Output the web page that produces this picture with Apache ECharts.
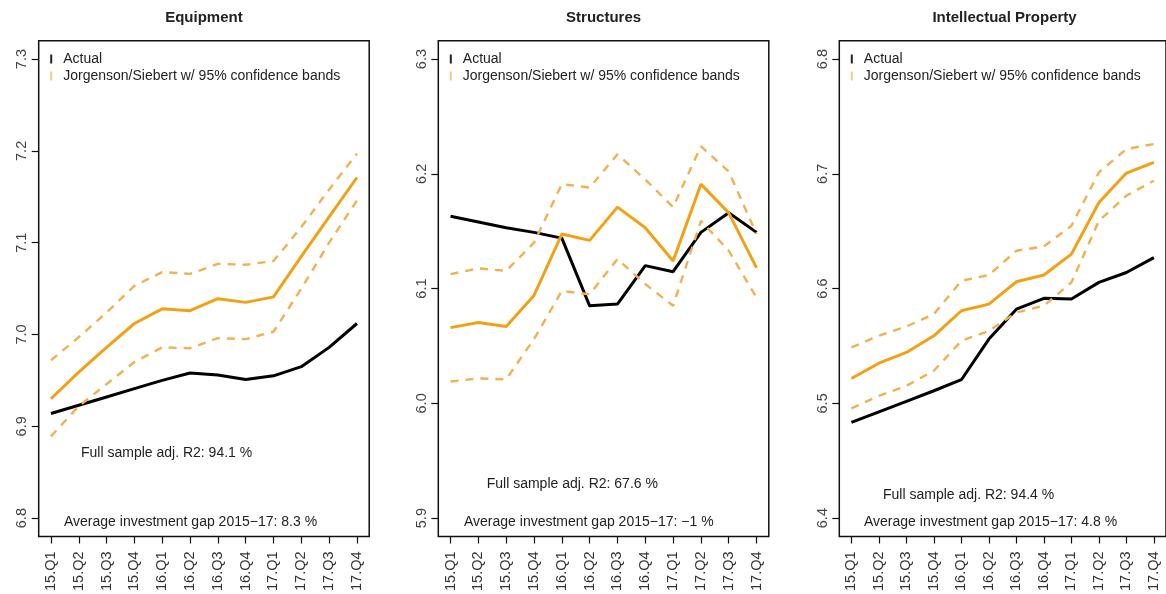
<!DOCTYPE html>
<html>
<head>
<meta charset="utf-8">
<script src="https://cdn.jsdelivr.net/npm/echarts@6/dist/echarts.min.js"></script>
<style>
html,body{margin:0;padding:0;background:#fff;}
#c{width:1166px;height:594px;}
</style>
</head>
<body>
<div id="c"></div>
<script>
// ---- data ----
const categories = ['15.Q1','15.Q2','15.Q3','15.Q4','16.Q1','16.Q2','16.Q3','16.Q4','17.Q1','17.Q2','17.Q3','17.Q4'];
const panelTitles = ['Equipment','Structures','Intellectual Property'];

const equipActual = [6.914, 6.923, 6.932, 6.941, 6.950, 6.958, 6.956, 6.951, 6.955, 6.965, 6.986, 7.012];
const equipFit    = [6.930, 6.959, 6.986, 7.012, 7.028, 7.026, 7.039, 7.035, 7.041, 7.085, 7.128, 7.171];
const equipUpper  = [6.972, 6.997, 7.024, 7.053, 7.068, 7.066, 7.077, 7.076, 7.080, 7.117, 7.158, 7.197];
const equipLower  = [6.889, 6.922, 6.946, 6.970, 6.986, 6.985, 6.996, 6.995, 7.003, 7.050, 7.100, 7.146];

const structActual = [6.163, 6.158, 6.153, 6.149, 6.144, 6.085, 6.0865, 6.120, 6.1147, 6.149, 6.166, 6.149];
const structFit    = [6.066, 6.0705, 6.067, 6.094, 6.1475, 6.142, 6.171, 6.153, 6.124, 6.191, 6.166, 6.118];
const structUpper  = [6.1126, 6.1176, 6.1155, 6.140, 6.191, 6.188, 6.217, 6.195, 6.171, 6.224, 6.202, 6.1475];
const structLower  = [6.019, 6.0217, 6.021, 6.056, 6.098, 6.095, 6.1257, 6.104, 6.085, 6.159, 6.133, 6.092];

const ipActual = [6.4834, 6.4926, 6.5017, 6.511, 6.5206, 6.556, 6.5821, 6.5915, 6.591, 6.6054, 6.614, 6.627];
const ipFit    = [6.5217, 6.535, 6.5444, 6.5589, 6.5807, 6.5865, 6.606, 6.6118, 6.630, 6.675, 6.7007, 6.710];
const ipUpper  = [6.5487, 6.5589, 6.567, 6.5778, 6.6068, 6.6118, 6.633, 6.6368, 6.6547, 6.7013, 6.7216, 6.726];
const ipLower  = [6.4956, 6.5066, 6.5153, 6.5284, 6.5545, 6.5632, 6.5792, 6.585, 6.6054, 6.659, 6.681, 6.694];

const equipTicks  = [6.8, 6.9, 7.0, 7.1, 7.2, 7.3];
const structTicks = [5.9, 6.0, 6.1, 6.2, 6.3];
const ipTicks     = [6.4, 6.5, 6.6, 6.7, 6.8];

const r2Texts  = ['Full sample adj. R2: 94.1 %', 'Full sample adj. R2: 67.6 %', 'Full sample adj. R2: 94.4 %'];
const gapTexts = ['Average investment gap 2015\u221217: 8.3 %', 'Average investment gap 2015\u221217: \u22121 %', 'Average investment gap 2015\u221217: 4.8 %'];

const actualName = 'Actual';
const fitName = 'Jorgenson/Siebert w/ 95% confidence bands';

// ---- layout / style ----
const panels = [
  {actual: equipActual, fit: equipFit, upper: equipUpper, lower: equipLower, ticks: equipTicks, left: 38.7},
  {actual: structActual, fit: structFit, upper: structUpper, lower: structLower, ticks: structTicks, left: 438.3},
  {actual: ipActual, fit: ipFit, upper: ipUpper, lower: ipLower, ticks: ipTicks, left: 839.3}
];
const annot = [
  {r2x: 81, r2y: 453, gx: 64, gy: 521.7},
  {r2x: 486.7, r2y: 484, gx: 464, gy: 521.7},
  {r2x: 883, r2y: 495, gx: 864, gy: 521.7}
];
const GRID_TOP = 40.7, GRID_H = 497, GRID_W = 330.5;
const ORANGE = '#F3A114';
const ORANGE_DASH = '#F2B050';
const FONT = 'Liberation Sans, Arial, sans-serif';
const TXT = 14;

const grids = [], xAxes = [], yAxes = [], series = [], legends = [], graphics = [];
const xs = categories.map((c, i) => i + 1);

panels.forEach((p, k) => {
  grids.push({left: p.left, top: GRID_TOP, width: GRID_W, height: GRID_H, show: true,
    borderColor: '#111', borderWidth: 1.5, backgroundColor: 'transparent', containLabel: false});
  const ext = (p.ticks[p.ticks.length-1] - p.ticks[0]) * 0.04;
  const xExt = (xs.length - 1) * 0.04;
  xAxes.push({type: 'value', gridIndex: k, min: 1 - xExt, max: xs.length + xExt,
    axisLine: {show: false}, splitLine: {show: false},
    axisTick: {show: true, length: 7, customValues: xs, lineStyle: {color: '#111', width: 1.2}},
    axisLabel: {show: true, rotate: 90, margin: 15, customValues: xs,
      formatter: v => categories[Math.round(v) - 1] || '',
      fontSize: 14.5, color: '#333', fontFamily: FONT}});
  yAxes.push({type: 'value', gridIndex: k, min: p.ticks[0] - ext, max: p.ticks[p.ticks.length-1] + ext,
    axisLine: {show: false}, splitLine: {show: false},
    axisTick: {show: true, length: 7, customValues: p.ticks, lineStyle: {color: '#111', width: 1.2}},
    axisLabel: {show: true, rotate: 90, margin: 9, customValues: p.ticks,
      formatter: v => Number(v).toFixed(1), fontSize: 14.5, color: '#444', fontFamily: FONT}});
  const mk = arr => arr.map((v, i) => [xs[i], v]);
  series.push({name: actualName, type: 'line', xAxisIndex: k, yAxisIndex: k, data: mk(p.actual),
    symbol: 'none', lineStyle: {color: '#000', width: 3}, itemStyle: {color: '#000'}, z: 3, animation: false});
  series.push({name: fitName, type: 'line', xAxisIndex: k, yAxisIndex: k, data: mk(p.fit),
    symbol: 'none', lineStyle: {color: ORANGE, width: 3}, itemStyle: {color: ORANGE}, z: 4, animation: false});
  series.push({name: 'upper', type: 'line', xAxisIndex: k, yAxisIndex: k, data: mk(p.upper),
    symbol: 'none', lineStyle: {color: ORANGE_DASH, width: 2.4, type: [8, 7]}, z: 5, animation: false});
  series.push({name: 'lower', type: 'line', xAxisIndex: k, yAxisIndex: k, data: mk(p.lower),
    symbol: 'none', lineStyle: {color: ORANGE_DASH, width: 2.4, type: [8, 7]}, z: 5, animation: false});
  legends.push({left: p.left + 11.5, top: 50.5, orient: 'vertical', padding: 0, itemGap: 0,
    itemWidth: 2, itemHeight: 9, selectedMode: false,
    textStyle: {fontSize: TXT, color: '#222', fontFamily: FONT, lineHeight: 17, padding: [0, 0, 0, 6]},
    data: [{name: actualName, icon: 'rect', itemStyle: {color: '#222'}},
           {name: fitName, icon: 'rect', itemStyle: {color: '#F6C980'}}]});
  graphics.push({type: 'text', x: p.left + GRID_W / 2, y: 18,
    style: {text: panelTitles[k], font: 'bold 15px ' + FONT, fill: '#222', textAlign: 'center', textVerticalAlign: 'middle'}});
  graphics.push({type: 'text', x: annot[k].r2x, y: annot[k].r2y,
    style: {text: r2Texts[k], font: TXT + 'px ' + FONT, fill: '#222', textAlign: 'left', textVerticalAlign: 'middle'}});
  graphics.push({type: 'text', x: annot[k].gx, y: annot[k].gy,
    style: {text: gapTexts[k], font: TXT + 'px ' + FONT, fill: '#222', textAlign: 'left', textVerticalAlign: 'middle'}});
});

const chart = echarts.init(document.getElementById('c'), null, {renderer: 'canvas'});
chart.setOption({
  backgroundColor: '#fff',
  animation: false,
  grid: grids, xAxis: xAxes, yAxis: yAxes, series: series, legend: legends,
  graphic: graphics
});
</script>
</body>
</html>
